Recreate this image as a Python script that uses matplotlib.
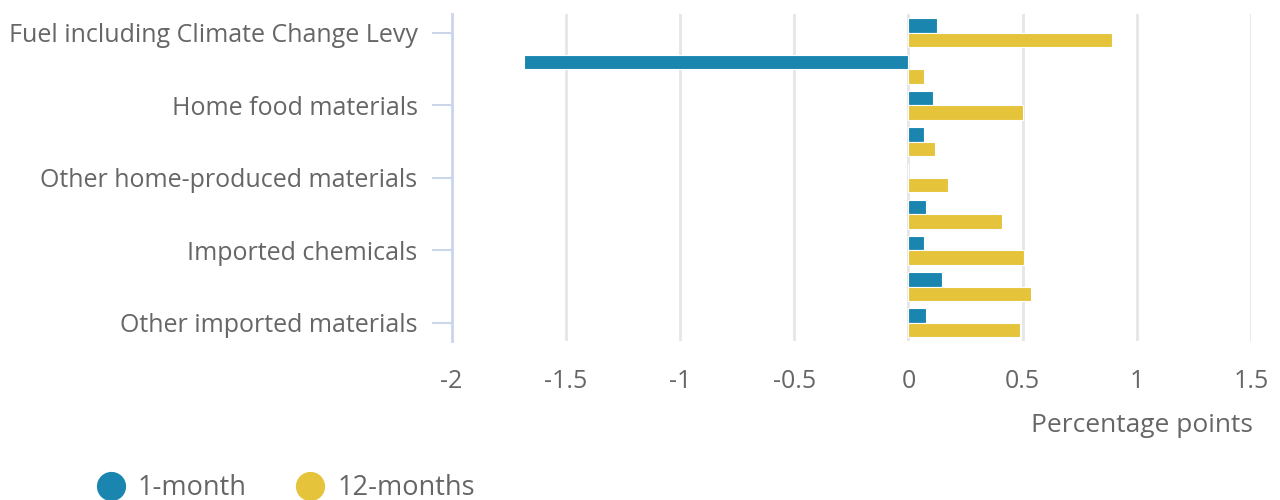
import numpy as np
from matplotlib import pyplot as plt
from matplotlib.lines import Line2D

# Categories, top to bottom (only every second one is labelled in the chart)
categories = ["Fuel including Climate Change Levy", "Crude oil", "Home food materials",
              "Imported food materials", "Other home-produced materials", "Imported metals",
              "Imported chemicals", "Imported parts and equipment", "Other imported materials"]
one_month = [0.126, -1.683, 0.107, 0.068, 0.0, 0.076, 0.068, 0.146, 0.076]
twelve_months = [0.892, 0.068, 0.50, 0.115, 0.175, 0.41, 0.506, 0.537, 0.489]
x_ticks = [-2, -1.5, -1, -0.5, 0, 0.5, 1, 1.5]
x_tick_labels = ["-2", "-1.5", "-1", "-0.5", "0", "0.5", "1", "1.5"]
series_names = ["1-month", "12-months"]

BLUE = "#1a86b0"
YELLOW = "#e5c33a"
TEXT = "#666666"
AXIS = "#ccd6eb"
GRID = "#e6e6e6"

plt.rcParams['font.family'] = ['Open Sans', 'DejaVu Sans']

fig = plt.figure(figsize=(12.8, 5), dpi=100)
ax = fig.add_axes([451.6 / 1280, 1 - 341 / 500, (1251 - 451.6) / 1280, (341 - 14) / 500])

y = np.arange(len(categories))
h = 0.4
ax.barh(y - h / 2, one_month, height=h, color=BLUE, edgecolor="white", linewidth=0.8, zorder=3)
ax.barh(y + h / 2, twelve_months, height=h, color=YELLOW, edgecolor="white", linewidth=0.8, zorder=3)

ax.set_xlim(-2, 1.5)
ax.set_ylim(len(categories) - 0.5, -0.52)

# Vertical grid
ax.set_xticks(x_ticks)
ax.set_xticklabels(x_tick_labels)
ax.grid(axis="x", color=GRID, linewidth=2, zorder=0)
ax.tick_params(axis="x", length=0, pad=20, labelsize=18, labelcolor=TEXT)

# Category axis: label every second category
shown = y[::2]
ax.set_yticks(shown)
ax.set_yticklabels([categories[i] for i in shown])
ax.tick_params(axis="y", length=14.5, width=1.5, color=AXIS, pad=10, labelsize=18, labelcolor=TEXT)

for side in ["top", "right", "bottom"]:
    ax.spines[side].set_visible(False)
ax.spines["left"].set_color(AXIS)
ax.spines["left"].set_linewidth(2)
ax.spines["left"].set_zorder(4)

fig.text(1253 / 1280, 1 - 426 / 500, "Percentage points", ha="right", va="center",
         fontsize=19, color=TEXT)

handles = [Line2D([], [], marker="o", linestyle="none", markersize=20, color=c)
           for c in [BLUE, YELLOW]]
fig.legend(handles, series_names, loc="center left", bbox_to_anchor=(73 / 1280, 1 - 488 / 500),
           ncol=2, frameon=False, fontsize=19.5, labelcolor=TEXT, handletextpad=0.0,
           columnspacing=1.34, borderaxespad=0)

fig.savefig("out.png", dpi=100)
